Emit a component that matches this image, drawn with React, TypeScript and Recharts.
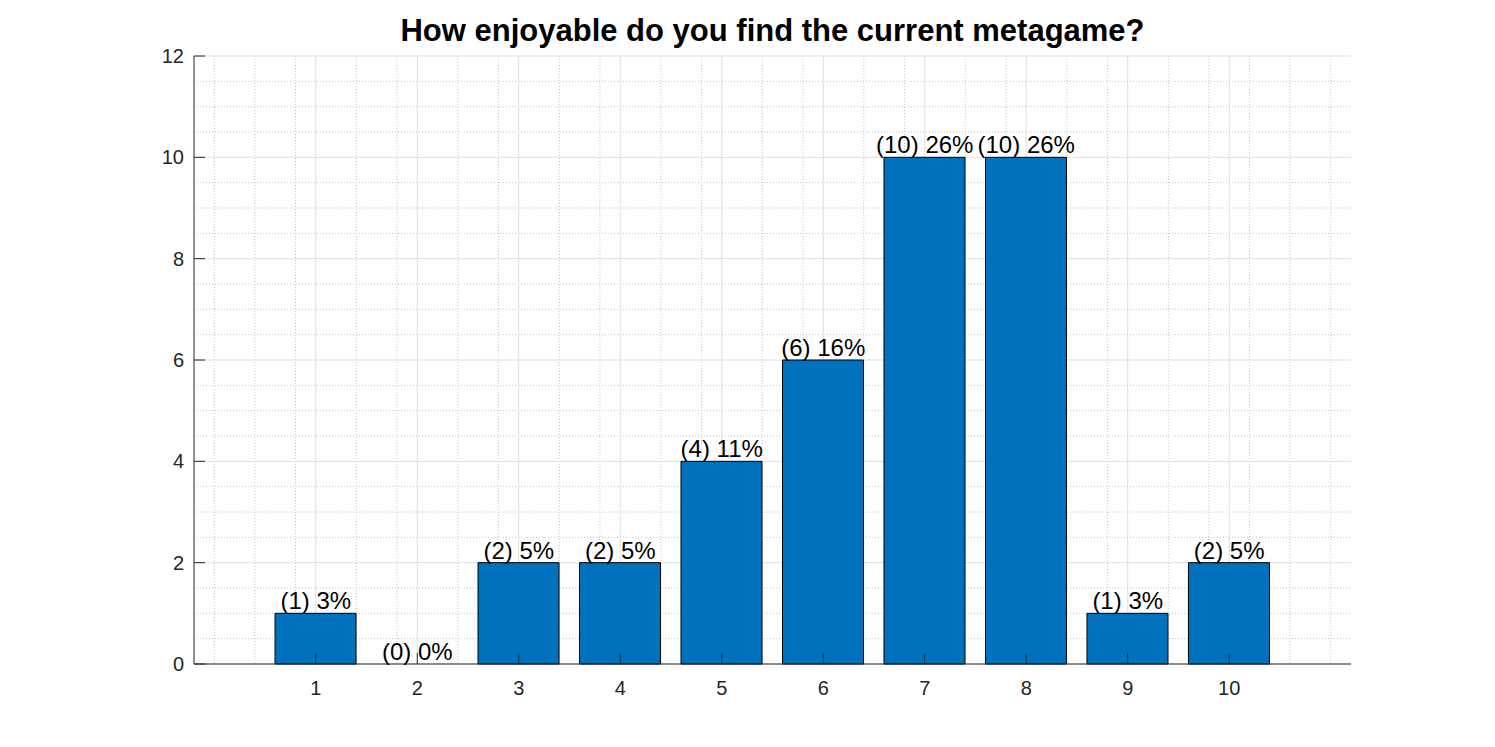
import React from 'react';
import {
  ComposedChart,
  Bar,
  Scatter,
  XAxis,
  YAxis,
  CartesianGrid
} from 'recharts';

// Данные опроса
const ratings = [1, 2, 3, 4, 5, 6, 7, 8, 9, 10];
const counts = [1, 0, 2, 2, 4, 6, 10, 10, 1, 2];
const percents = [3, 0, 5, 5, 11, 16, 26, 26, 3, 5];
const xTicks = [1, 2, 3, 4, 5, 6, 7, 8, 9, 10];
const yTicks = [0, 2, 4, 6, 8, 10, 12];

const data = ratings.map((r, i) => ({
  rating: r,
  count: counts[i],
  label: `(${counts[i]}) ${percents[i]}%`
}));

// минорная сетка как в MATLAB
const minorX: number[] = [];
for (let k = 0; k <= 55; k++) {
  const v = Math.round(k * 0.2 * 10) / 10;
  if (!Number.isInteger(v) || v === 0 || v === 11) minorX.push(v);
}
const minorY: number[] = [];
for (let k = 1; k < 24; k++) {
  if (k % 4 !== 0) minorY.push(k * 0.5);
}

const AXIS = '#262626';
const FONT = 'Arial, "Liberation Sans", sans-serif';

const BottomTick = (props: any) => {
  const { x, y, payload } = props;
  return (
    <g>
      <line x1={x} y1={y} x2={x} y2={y - 11} stroke={AXIS} strokeWidth={1} />
      <text x={x} y={y + 31} textAnchor="middle" fill={AXIS} fontSize={20} fontFamily={FONT}>
        {payload.value}
      </text>
    </g>
  );
};

const TopTick = (props: any) => {
  const { x, y } = props;
  return <line x1={x} y1={y} x2={x} y2={y + 11} stroke={AXIS} strokeWidth={1} />;
};

const LeftTick = (props: any) => {
  const { x, y, payload } = props;
  return (
    <g>
      <line x1={x} y1={y} x2={x + 11} y2={y} stroke={AXIS} strokeWidth={1} />
      <text x={x - 10} y={y + 7} textAnchor="end" fill={AXIS} fontSize={20} fontFamily={FONT}>
        {payload.value}
      </text>
    </g>
  );
};

const RightTick = (props: any) => {
  const { x, y } = props;
  return <line x1={x} y1={y} x2={x - 11} y2={y} stroke={AXIS} strokeWidth={1} />;
};

const LabelShape = (props: any) => {
  const { cx, cy, payload } = props;
  return (
    <text x={cx} y={cy - 4} textAnchor="middle" fill="#000" fontSize={24} fontFamily={FONT}>
      {payload.label}
    </text>
  );
};

const App: React.FC = () => {
  return (
    <div style={{ position: 'absolute', left: 0, top: 0, width: 1495, height: 747, background: '#fff' }}>
      <div
        style={{
          position: 'absolute',
          left: 194,
          width: 1157,
          top: 13,
          textAlign: 'center',
          fontFamily: FONT,
          fontWeight: 'bold',
          fontSize: 31,
          color: '#000'
        }}
      >
        How enjoyable do you find the current metagame?
      </div>
      <ComposedChart
        width={1495}
        height={747}
        data={data}
        margin={{ top: 56, right: 144, bottom: 53, left: 154 }}
      >
        <CartesianGrid
          xAxisId="bottom"
          yAxisId="left"
          stroke="#c4c4c4"
          strokeDasharray="1 2"
          verticalValues={minorX}
          horizontalValues={minorY}
        />
        <CartesianGrid
          xAxisId="bottom"
          yAxisId="left"
          stroke="#dfdfdf"
          verticalValues={xTicks}
          horizontalValues={yTicks}
        />
        <XAxis
          xAxisId="bottom"
          dataKey="rating"
          type="number"
          domain={[-0.2, 11.2]}
          ticks={xTicks}
          allowDataOverflow
          height={30}
          tickSize={0}
          tickMargin={0}
          stroke={AXIS}
          tick={<BottomTick />}
        />
        <XAxis
          xAxisId="top"
          orientation="top"
          dataKey="rating"
          type="number"
          domain={[-0.2, 11.2]}
          ticks={xTicks}
          allowDataOverflow
          height={0}
          tickSize={0}
          tickMargin={0}
          stroke={AXIS}
          tick={<TopTick />}
        />
        <YAxis
          yAxisId="left"
          type="number"
          domain={[0, 12]}
          ticks={yTicks}
          width={40}
          tickSize={0}
          tickMargin={0}
          stroke={AXIS}
          tick={<LeftTick />}
        />
        <YAxis
          yAxisId="right"
          orientation="right"
          type="number"
          domain={[0, 12]}
          ticks={yTicks}
          width={0}
          tickSize={0}
          tickMargin={0}
          stroke={AXIS}
          tick={<RightTick />}
        />
        <Bar
          xAxisId="bottom"
          yAxisId="left"
          dataKey="count"
          fill="#0072BD"
          stroke="#000"
          strokeWidth={1}
          barSize={81}
          isAnimationActive={false}
        />
        <Scatter
          xAxisId="bottom"
          yAxisId="left"
          dataKey="count"
          shape={<LabelShape />}
          isAnimationActive={false}
        />
      </ComposedChart>
    </div>
  );
};

export default App;
